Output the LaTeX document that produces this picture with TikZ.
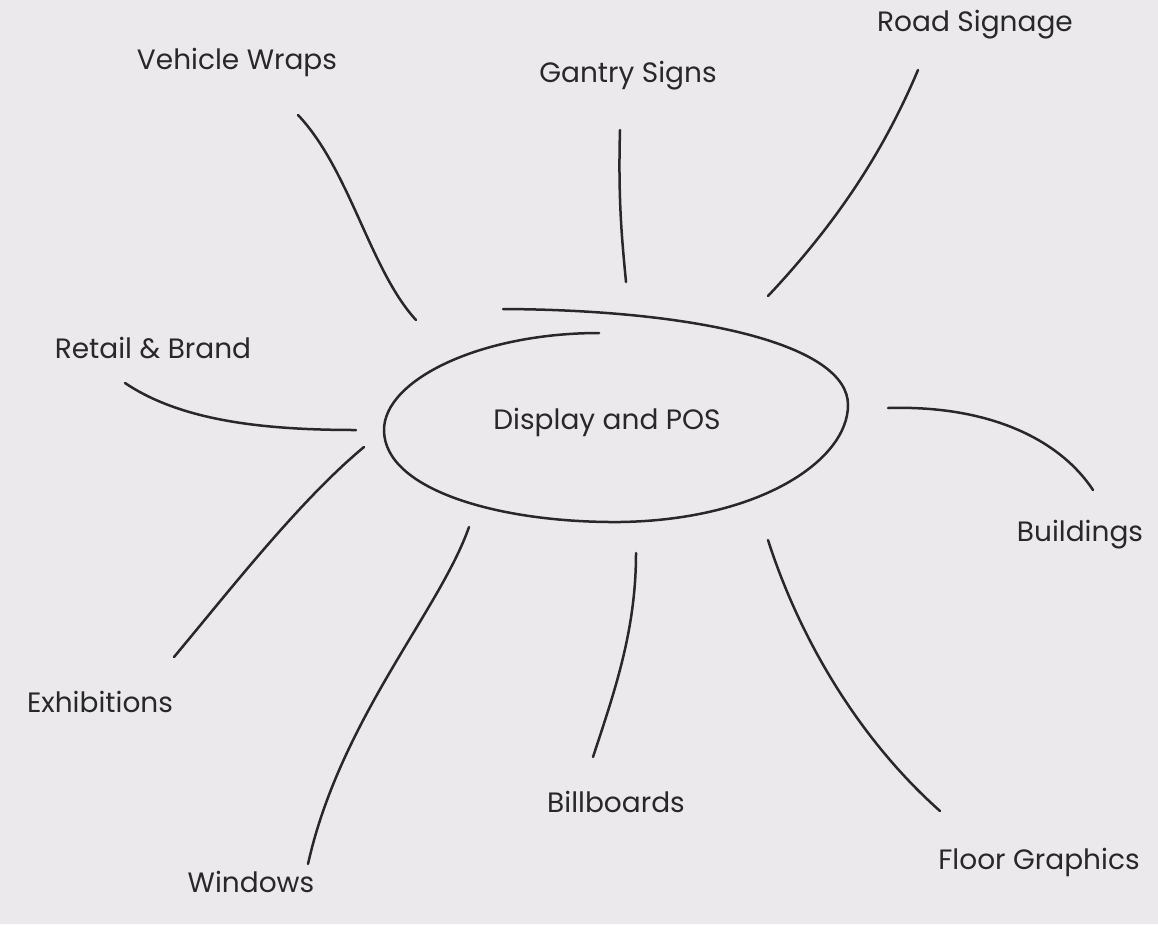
\documentclass[tikz,border=0pt]{standalone}
\usepackage{fontspec}
\setmainfont{Poppins}
\definecolor{paper}{RGB}{235,233,236}
\definecolor{ink}{RGB}{40,40,40}
\begin{document}
\begin{tikzpicture}[x=1pt,y=-1pt,
  lbl/.style={text=ink,font=\fontsize{28}{31}\selectfont,inner sep=0pt},
  conn/.style={draw=ink,line width=2.5pt,line cap=round}]
\fill[paper] (0,0) rectangle (1158,924);
\useasboundingbox (0,0) rectangle (1158,924);
% labels
\node[lbl] (center) at (607,422) {Display and POS};
\node[lbl] (vw) at (237,62) {Vehicle Wraps};
\node[lbl] (gs) at (628,76) {Gantry Signs};
\node[lbl] (rs) at (975,25) {Road Signage};
\node[lbl] (rb) at (153,348) {Retail \& Brand};
\node[lbl] (bu) at (1080,535) {Buildings};
\node[lbl] (ex) at (100,702) {Exhibitions};
\node[lbl] (wi) at (251,882) {Windows};
\node[lbl] (bb) at (616,802) {Billboards};
\node[lbl] (fg) at (1039,862) {Floor Graphics};
% hand-drawn ellipse
\coordinate (e0) at (599,333);
\coordinate (e1) at (384,430);
\coordinate (e2) at (620,522);
\coordinate (e3) at (848,405);
\coordinate (e4) at (503,309);
\draw[conn] (e0) .. controls (480,333) and (384,380) .. (e1)
  .. controls (384,490) and (500,523) .. (e2)
  .. controls (760,520) and (848,460) .. (e3)
  .. controls (848,345) and (700,310) .. (e4);
% connector endpoints
\coordinate (vwa) at (298,115); \coordinate (vwb) at (416,320);
\coordinate (gsa) at (620,130); \coordinate (gsb) at (626,282);
\coordinate (rsa) at (918,70);  \coordinate (rsb) at (768,296);
\coordinate (rba) at (125,383); \coordinate (rbb) at (356,430);
\coordinate (bua) at (888,408); \coordinate (bub) at (1093,490);
\coordinate (exa) at (364,447); \coordinate (exb) at (174,657);
\coordinate (wia) at (469,527); \coordinate (wib) at (308,864);
\coordinate (bba) at (636,553); \coordinate (bbb) at (593,757);
\coordinate (fga) at (768,540); \coordinate (fgb) at (940,811);
\draw[conn] (vwa) .. controls (350,170) and (370,270) .. (vwb);
\draw[conn] (gsa) .. controls (618,200) and (622,240) .. (gsb);
\draw[conn] (rsa) .. controls (880,160) and (830,230) .. (rsb);
\draw[conn] (rba) .. controls (180,420) and (260,430) .. (rbb);
\draw[conn] (bua) .. controls (990,405) and (1060,440) .. (bub);
\draw[conn] (exa) .. controls (300,500) and (230,590) .. (exb);
\draw[conn] (wia) .. controls (440,610) and (340,720) .. (wib);
\draw[conn] (bba) .. controls (636,630) and (615,690) .. (bbb);
\draw[conn] (fga) .. controls (800,640) and (860,740) .. (fgb);
\end{tikzpicture}
\end{document}
